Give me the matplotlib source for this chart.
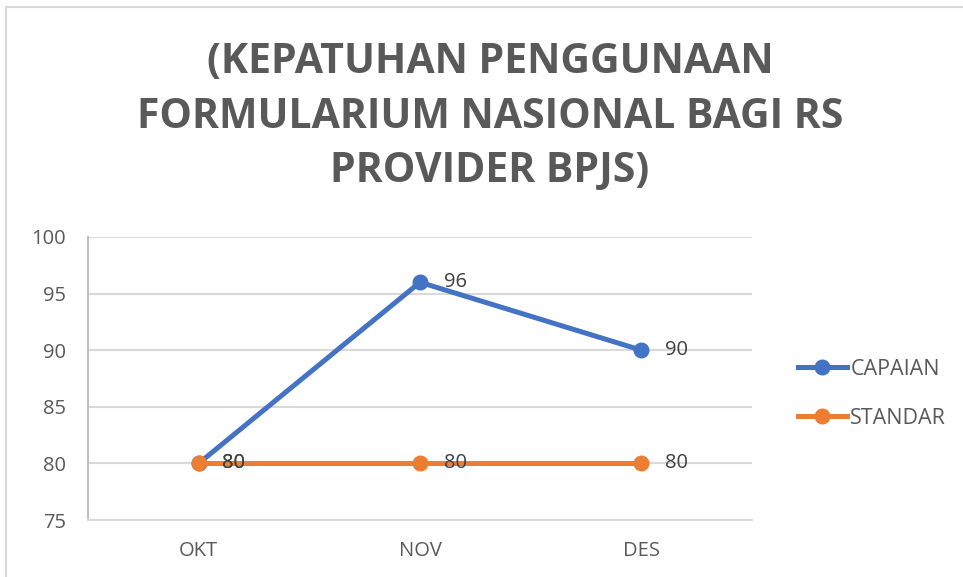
import matplotlib.pyplot as plt
from matplotlib.patches import Rectangle

months = ["OKT", "NOV", "DES"]
capaian = [80, 96, 90]
standar = [80, 80, 80]
title = "(KEPATUHAN PENGGUNAAN\nFORMULARIUM NASIONAL BAGI RS\nPROVIDER BPJS)"

plt.rcParams['font.family'] = ['Open Sans', 'DejaVu Sans']

fig = plt.figure(figsize=(9.63, 5.77), dpi=100)
W, H = 963, 577

# chart area border
fig.patches.append(Rectangle((6 / W, -0.1), 1.2, 1 - 7 / H + 0.1,
                             transform=fig.transFigure, fill=False,
                             edgecolor='#D9D9D9', linewidth=1.5))

ax = fig.add_axes([88 / W, 57 / H, 664 / W, 283 / H])
x = list(range(len(months)))

ax.plot(x, capaian, color='#4472C4', lw=3.6, marker='o', ms=10.5,
        label='CAPAIAN', zorder=3)
ax.plot(x, standar, color='#ED7D31', lw=3.6, marker='o', ms=10.5,
        label='STANDAR', zorder=4)

for xi, v in zip(x, capaian):
    ax.annotate(str(v), (xi, v), xytext=(17, 0), textcoords='offset points',
                ha='left', va='center', fontsize=14.5, color='#404040', zorder=5)
for xi, v in zip(x, standar):
    ax.annotate(str(v), (xi, v), xytext=(17, 0), textcoords='offset points',
                ha='left', va='center', fontsize=14.5, color='#404040', zorder=5)

ax.set_xlim(-0.5, 2.5)
ax.set_ylim(75, 100)
ax.set_yticks([75, 80, 85, 90, 95, 100])
ax.set_xticks(x)
ax.set_xticklabels(months)
ax.grid(axis='y', color='#D9D9D9', lw=1.5)
ax.set_axisbelow(True)
for s in ['top', 'right']:
    ax.spines[s].set_visible(False)
ax.spines['left'].set_color('#BFBFBF')
ax.spines['left'].set_linewidth(1.5)
ax.spines['bottom'].set_color('#D9D9D9')
ax.spines['bottom'].set_linewidth(1.5)
ax.tick_params(length=0, labelsize=14.5, labelcolor='#595959')
ax.tick_params(axis='y', pad=16)
ax.tick_params(axis='x', pad=15)

fig.text(490 / W, 1 - 117 / H, title, ha='center', va='center',
         fontsize=29.5, fontweight='bold', color='#595959', linespacing=1.42)

leg = fig.legend(loc='center left', bbox_to_anchor=(789 / W, 1 - 394 / H),
                 frameon=False, fontsize=15.5, handlelength=2.3,
                 labelspacing=1.3, handletextpad=0.15, borderaxespad=0)
for t in leg.get_texts():
    t.set_color('#595959')

fig.savefig('out.png', dpi=100)
